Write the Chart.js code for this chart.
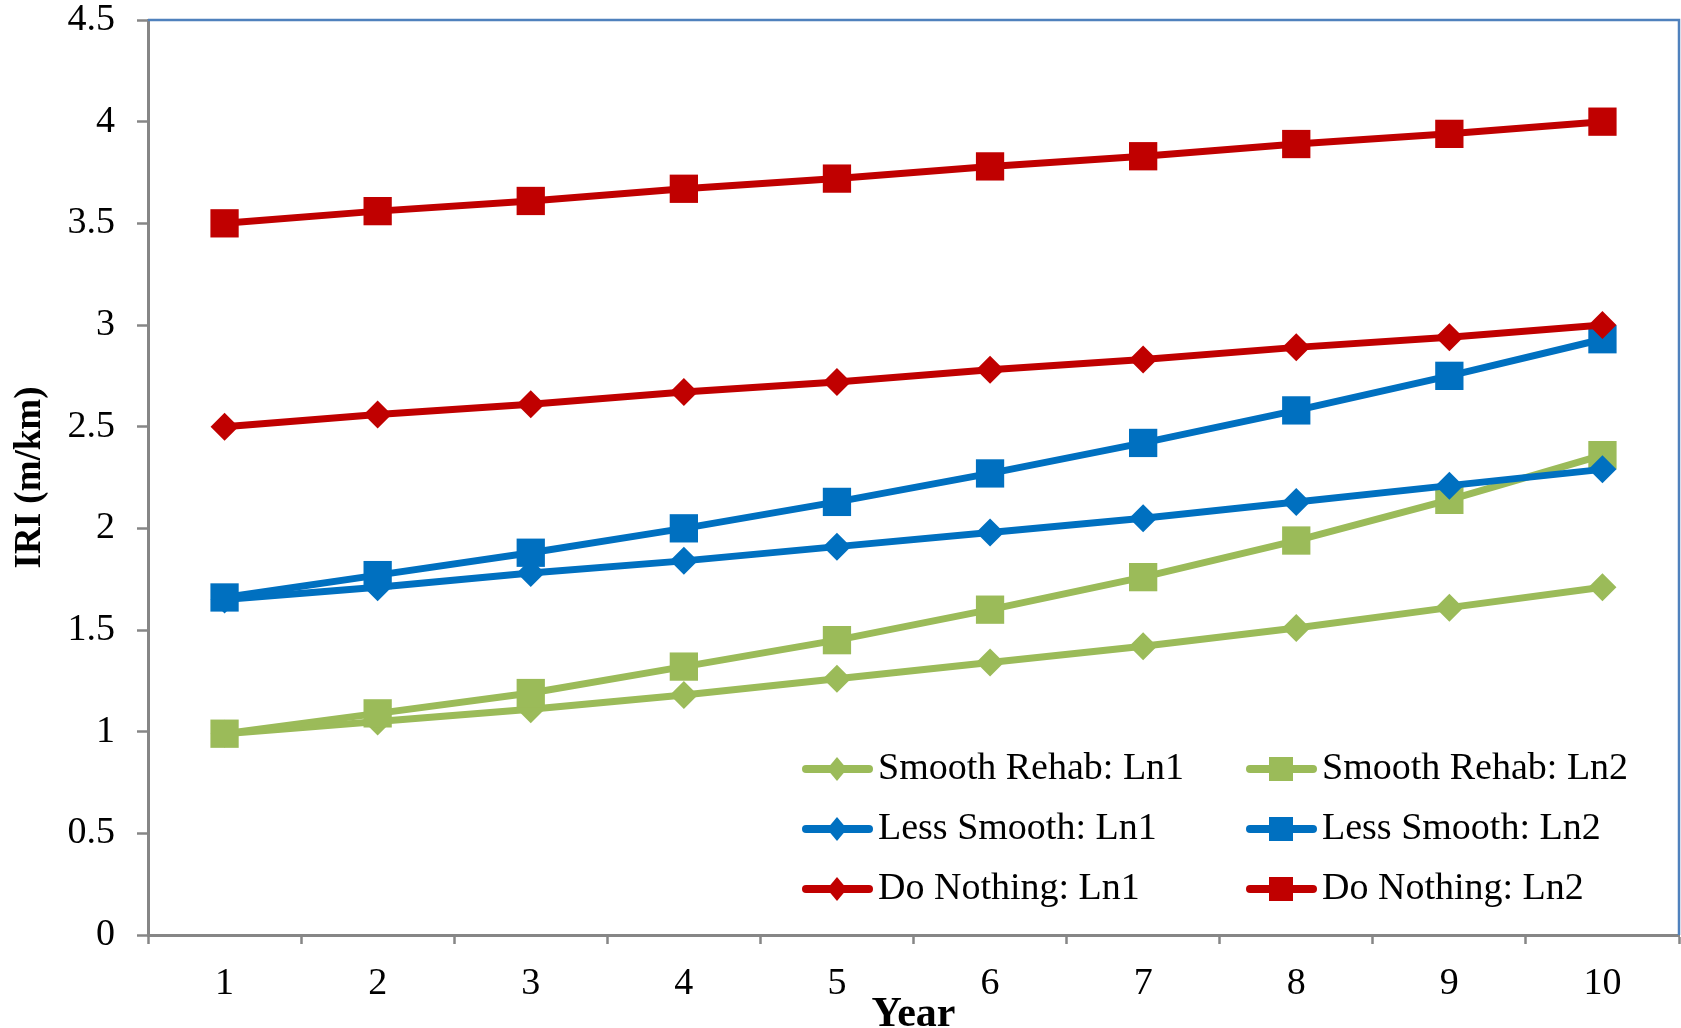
<!DOCTYPE html>
<html>
<head>
<meta charset="utf-8">
<title>IRI by year</title>
<script src="https://cdn.jsdelivr.net/npm/chart.js@4.4.1/dist/chart.umd.min.js"></script>
<style>
  body { margin: 0; background: #fff; }
  #wrap { width: 1681px; height: 1028px; }
</style>
</head>
<body>
<div id="wrap"><canvas id="iriChart" width="1681" height="1028"></canvas></div>
<script>
// values
const years = ['1', '2', '3', '4', '5', '6', '7', '8', '9', '10'];
const yTicks = [0, 0.5, 1, 1.5, 2, 2.5, 3, 3.5, 4, 4.5];

const smoothLn1 = [0.99, 1.05, 1.11, 1.18, 1.26, 1.34, 1.42, 1.51, 1.61, 1.71];
const smoothLn2 = [0.99, 1.09, 1.19, 1.32, 1.45, 1.60, 1.76, 1.94, 2.14, 2.36];
const lessLn1 = [1.65, 1.71, 1.78, 1.84, 1.91, 1.98, 2.05, 2.13, 2.21, 2.29];
const lessLn2 = [1.66, 1.77, 1.88, 2.00, 2.13, 2.27, 2.42, 2.58, 2.75, 2.93];
const nothingLn1 = [2.50, 2.56, 2.61, 2.67, 2.72, 2.78, 2.83, 2.89, 2.94, 3.00];
const nothingLn2 = [3.50, 3.56, 3.61, 3.67, 3.72, 3.78, 3.83, 3.89, 3.94, 4.00];

const seriesNames = [
  'Smooth Rehab: Ln1', 'Smooth Rehab: Ln2',
  'Less Smooth: Ln1', 'Less Smooth: Ln2',
  'Do Nothing: Ln1', 'Do Nothing: Ln2'
];
const seriesValues = [smoothLn1, smoothLn2, lessLn1, lessLn2, nothingLn1, nothingLn2];
const seriesColors = ['#9BBB59', '#9BBB59', '#0070C0', '#0070C0', '#C00000', '#C00000'];

const serif = '"Liberation Serif", "Times New Roman", serif';

const makeDataset = (name, i) => {
  const isSquare = i % 2 === 1;
  return {
    label: name,
    data: seriesValues[i],
    borderColor: seriesColors[i],
    backgroundColor: seriesColors[i],
    borderWidth: 7,
    pointStyle: isSquare ? 'rect' : 'rectRot',
    pointRadius: isSquare ? 20 : 14,
    pointHoverRadius: isSquare ? 20 : 14,
    pointBorderWidth: 0,
    tension: 0,
    // later series sit on top, like the original
    order: seriesNames.length - i
  };
};

// blue frame on top and right of the plot area
const frame = {
  id: 'frame',
  beforeDatasetsDraw(chart) {
    const { ctx, chartArea: a } = chart;
    ctx.save();
    ctx.strokeStyle = '#4F81BD';
    ctx.lineWidth = 2.5;
    ctx.beginPath();
    ctx.moveTo(a.left, a.top);
    ctx.lineTo(a.right, a.top);
    ctx.lineTo(a.right, a.bottom);
    ctx.stroke();
    ctx.restore();
  }
};

// legend drawn inside the plot, two columns by three rows
const cornerLegend = {
  id: 'cornerLegend',
  afterDraw(chart) {
    const { ctx } = chart;
    const colX = [802, 1246];
    const rowY = [769, 829, 889];
    ctx.save();
    ctx.font = '38px ' + serif;
    ctx.textBaseline = 'middle';
    ctx.textAlign = 'left';
    chart.data.datasets.forEach((ds, i) => {
      const x = colX[i % 2];
      const y = rowY[Math.floor(i / 2)];
      ctx.strokeStyle = ds.borderColor;
      ctx.fillStyle = ds.borderColor;
      ctx.lineWidth = 8;
      ctx.lineCap = 'round';
      ctx.beginPath();
      ctx.moveTo(x + 4, y);
      ctx.lineTo(x + 67, y);
      ctx.stroke();
      const cx = x + 35;
      if (ds.pointStyle === 'rect') {
        ctx.fillRect(cx - 12, y - 12, 24, 24);
      } else {
        ctx.beginPath();
        ctx.moveTo(cx, y - 12);
        ctx.lineTo(cx + 10, y);
        ctx.lineTo(cx, y + 12);
        ctx.lineTo(cx - 10, y);
        ctx.closePath();
        ctx.fill();
      }
      ctx.fillStyle = '#000';
      ctx.fillText(ds.label, x + 76, y);
    });
    ctx.restore();
  }
};

new Chart(document.getElementById('iriChart'), {
  type: 'line',
  data: {
    labels: years,
    datasets: seriesNames.map(makeDataset)
  },
  options: {
    responsive: false,
    animation: false,
    layout: { autoPadding: false, padding: { top: 20, right: 2, left: 0, bottom: 0 } },
    plugins: {
      legend: { display: false },
      tooltip: { enabled: false }
    },
    scales: {
      x: {
        offset: true,
        grid: {
          offset: true,
          drawOnChartArea: false,
          drawTicks: true,
          tickLength: 9,
          tickColor: '#868686',
          tickWidth: 2.5
        },
        border: { color: '#868686', width: 3 },
        ticks: {
          color: '#000',
          padding: 21,
          font: { family: serif, size: 38, lineHeight: 1 }
        },
        title: {
          display: true,
          text: 'Year',
          color: '#000',
          padding: { top: 0, bottom: -8 },
          font: { family: serif, size: 42, weight: 'bold', lineHeight: 1 }
        },
        afterFit(scale) {
          scale.height = 93;
          scale.paddingLeft = 0;
          scale.paddingRight = 0;
        }
      },
      y: {
        min: 0,
        max: 4.5,
        afterBuildTicks(scale) { scale.ticks = yTicks.map(v => ({ value: v })); },
        grid: {
          drawOnChartArea: false,
          drawTicks: true,
          tickLength: 11,
          tickColor: '#868686',
          tickWidth: 2.5
        },
        border: { color: '#868686', width: 3 },
        ticks: {
          color: '#000',
          padding: 22,
          font: { family: serif, size: 38, lineHeight: 1 },
          callback: v => String(v)
        },
        title: {
          display: true,
          text: 'IRI (m/km)',
          color: '#000',
          padding: { top: 12, bottom: 0 },
          font: { family: serif, size: 37, weight: 'bold', lineHeight: 1 }
        },
        afterFit(scale) {
          scale.width = 148;
          scale.paddingTop = 0;
          scale.paddingBottom = 0;
        }
      }
    }
  },
  plugins: [frame, cornerLegend]
});
</script>
</body>
</html>
